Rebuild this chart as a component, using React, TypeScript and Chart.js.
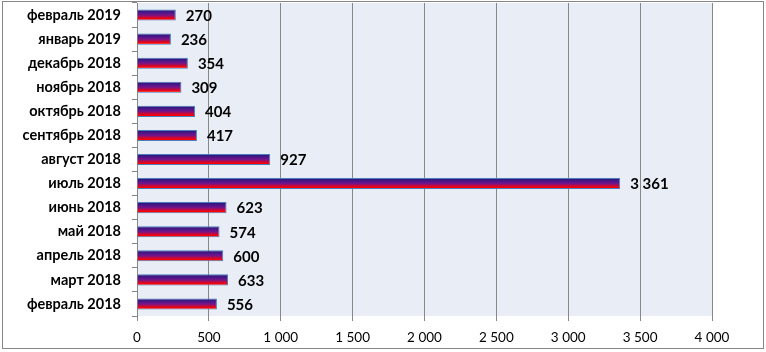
import React, { useEffect, useRef } from "react";
import { Chart, registerables } from "chart.js";

Chart.register(...registerables);

const categories = [
  "февраль 2019",
  "январь 2019",
  "декабрь 2018",
  "ноябрь 2018",
  "октябрь 2018",
  "сентябрь 2018",
  "август 2018",
  "июль 2018",
  "июнь 2018",
  "май 2018",
  "апрель 2018",
  "март 2018",
  "февраль 2018",
];
const values = [270, 236, 354, 309, 404, 417, 927, 3361, 623, 574, 600, 633, 556];
const xTickMin = 0;
const xTickMax = 4000;
const xTickStep = 500;

const FONT = "Lato, 'Open Sans', 'Noto Sans', sans-serif";

function fmt(v: number): string {
  return String(Math.round(v)).replace(/\B(?=(\d{3})+(?!\d))/g, " ");
}

const chartDecor = {
  id: "chartDecor",
  beforeDraw(chart: any) {
    const { ctx, chartArea } = chart;
    ctx.save();
    ctx.fillStyle = "#ffffff";
    ctx.fillRect(0, 0, chart.width, chart.height);
    ctx.fillStyle = "#E9EDF6";
    ctx.fillRect(chartArea.left, chartArea.top, chartArea.right - chartArea.left, chartArea.bottom - chartArea.top);
    ctx.strokeStyle = "#868686";
    ctx.lineWidth = 1;
    ctx.strokeRect(2.5, 1.5, 761, 347);
    ctx.restore();
  },
  beforeDatasetsDraw(chart: any) {
    const { ctx } = chart;
    const meta = chart.getDatasetMeta(0);
    meta.data.forEach((el: any) => {
      const top = el.y - el.height / 2;
      const bottom = el.y + el.height / 2;
      const g = ctx.createLinearGradient(0, top, 0, bottom);
      g.addColorStop(0, "#1C1880");
      g.addColorStop(0.5, "#74158A");
      g.addColorStop(0.85, "#FF0000");
      g.addColorStop(1, "#FF0000");
      el.options = { ...el.options, backgroundColor: g };
    });
  },
  afterDatasetsDraw(chart: any) {
    const { ctx } = chart;
    const meta = chart.getDatasetMeta(0);
    ctx.save();
    ctx.fillStyle = "#000000";
    ctx.font = `bold 15px ${FONT}`;
    ctx.textAlign = "left";
    ctx.textBaseline = "middle";
    meta.data.forEach((el: any, i: number) => {
      ctx.fillText(fmt(values[i]), el.x + 10, el.y + 1);
    });
    ctx.restore();
  },
};

export default function App() {
  const ref = useRef<HTMLCanvasElement | null>(null);

  useEffect(() => {
    document.body.style.margin = "0";
    if (!ref.current) return;
    const chart = new Chart(ref.current, {
      type: "bar",
      data: {
        labels: categories,
        datasets: [
          {
            data: values,
            backgroundColor: "#74158A",
            borderColor: "#4A7EBB",
            borderWidth: 1,
            barPercentage: 0.46,
            categoryPercentage: 1,
          },
        ],
      },
      plugins: [chartDecor],
      options: {
        indexAxis: "y",
        responsive: false,
        animation: false,
        devicePixelRatio: 1,
        layout: { padding: { left: 0, right: 54, top: 3, bottom: 0 } },
        plugins: {
          legend: { display: false },
          tooltip: { enabled: false },
        },
        scales: {
          x: {
            min: xTickMin,
            max: xTickMax,
            ticks: {
              stepSize: xTickStep,
              color: "#000000",
              font: { family: FONT, size: 13.5 },
              padding: 9,
              maxRotation: 0,
              callback: (v: any) => fmt(Number(v)),
            },
            grid: {
              color: "#878787",
              lineWidth: 1,
              tickLength: 5,
              drawTicks: true,
            },
            border: { display: false },
            afterFit: (scale: any) => {
              scale.height = 36;
              scale.paddingLeft = 0;
              scale.paddingRight = 0;
            },
          },
          y: {
            ticks: {
              color: "#000000",
              font: { family: FONT, size: 14.5, weight: "bold" },
              padding: 11,
            },
            grid: {
              drawOnChartArea: false,
              drawTicks: true,
              tickLength: 5,
              color: "#878787",
              offset: true,
            },
            border: { display: true, color: "#878787", width: 1 },
            afterFit: (scale: any) => {
              scale.width = 137;
              scale.paddingTop = 0;
              scale.paddingBottom = 0;
            },
          },
        },
      },
    });
    return () => chart.destroy();
  }, []);

  return (
    <div style={{ width: 766, height: 352 }}>
      <canvas ref={ref} width={766} height={352} style={{ display: "block" }} />
    </div>
  );
}
